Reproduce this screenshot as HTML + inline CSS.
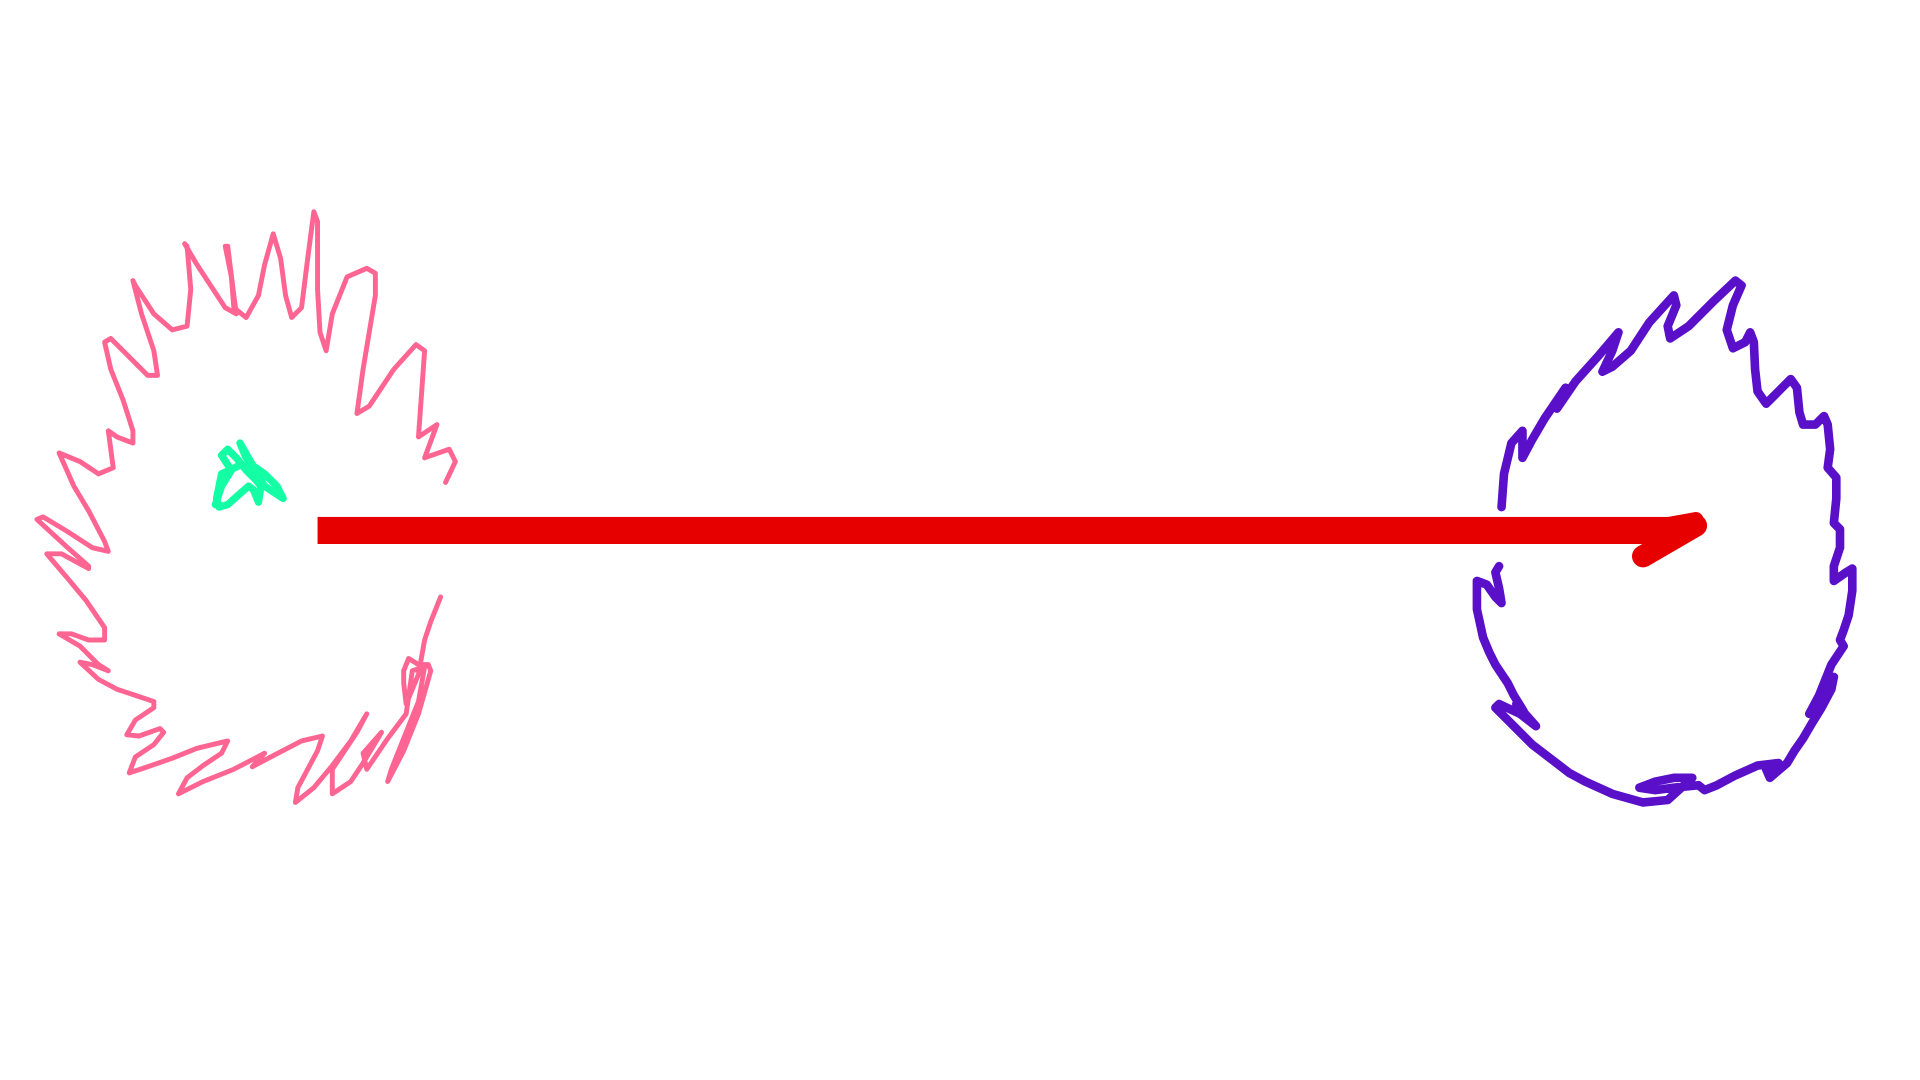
<!DOCTYPE html>
<html><head><meta charset="utf-8"><style>
html,body{margin:0;padding:0;background:#fff;width:1920px;height:1080px;overflow:hidden}
svg{display:block}
</style></head><body>
<svg width="1920" height="1080" viewBox="0 0 1560 877.5" preserveAspectRatio="none" xmlns="http://www.w3.org/2000/svg">
<rect width="1560" height="877.5" fill="#fff"/>
<polyline fill="none" stroke="#ff6592" stroke-width="4" stroke-linejoin="round" stroke-linecap="round" points="362,392 370,375 365,365 345,372 355,345 340,355 345,285 338,280 320,300 300,330 290,336 295,300 305,240 305,222 298,218 282,225 270,255 265,285 260,270 258,235 258,180 255,172 250,210 245,250 237,258 232,240 228,210 222,190 215,215 210,240 200,258 190,250 188,225 183,200 185,200 190,240 192,255 183,250 160,215 150,198 152,200 155,235 152,265 140,268 125,255 110,232 108,228 115,255 125,285 128,305 120,305 110,295 90,275 85,278 90,300 100,325 108,350 108,360 95,355 88,350 90,365 92,380 80,385 65,375 48,368 60,395 72,415 85,440 88,448 75,445 55,432 35,420 30,422 55,445 72,460 72,462 50,450 38,450 55,470 70,488 85,510 85,520 72,520 58,515 48,515 65,525 80,540 88,545 75,540 65,538 80,552 95,560 110,565 125,570 125,575 110,585 103,597 113,598 130,592 133,595 125,605 110,615 105,628 120,623 140,616 160,608 185,602 180,612 165,622 152,632 145,645 165,635 190,625 215,612 205,623 220,615 245,602 262,598 258,610 250,625 242,640 240,652 255,640 270,622 285,602 298,580 290,595 270,625 270,645 285,635 295,620 310,595 295,612 298,625 315,600 330,580 335,545 345,542 340,570 328,600 318,625 315,635 328,610 340,580 350,545 348,540 340,540 332,535 328,545 328,555 330,572 340,548 345,520 350,505 358,485"/>
<polyline fill="none" stroke="#14ffa5" stroke-width="6" stroke-linejoin="round" stroke-linecap="round" points="175,410 180,395 188,382 180,370 185,365 192,372 200,382 208,390 212,395 210,408 206,398 202,395 194,402 185,410 178,412 176,405 180,385 195,378 205,378 215,385 225,395 230,405 215,395 195,360 200,372"/>
<rect x="258" y="420" width="1100" height="22" fill="#e60000"/>
<line x1="1335" y1="452" x2="1378" y2="427" stroke="#e60000" stroke-width="18" stroke-linecap="round"/>
<line x1="1345" y1="428" x2="1378" y2="422" stroke="#e60000" stroke-width="12" stroke-linecap="round"/>
<polyline fill="none" stroke="#5a0fc8" stroke-width="7" stroke-linejoin="round" stroke-linecap="round" points="1220,412 1222,385 1228,360 1237,350 1237,372 1245,357 1255,340 1272,315 1265,332 1280,310 1298,290 1315,270 1310,285 1302,302 1310,298 1325,285 1340,262 1360,240 1362,248 1355,265 1357,275 1372,265 1392,245 1410,228 1415,232 1408,248 1403,268 1408,283 1418,278 1422,270 1425,278 1426,300 1428,318 1435,328 1445,318 1455,308 1460,315 1462,335 1465,345 1475,345 1482,338 1485,345 1487,365 1485,380 1492,388 1492,405 1490,425 1495,430 1495,445 1490,460 1490,472 1500,465 1505,462 1505,480 1502,500 1498,512 1495,520 1498,525 1488,540 1482,555 1478,565 1470,580 1490,550 1488,560 1480,575 1472,588 1465,600 1458,610 1452,620 1438,632 1435,625 1445,620 1428,622 1410,630 1395,638 1385,642 1380,638 1360,640 1345,642 1332,640 1345,635 1360,632 1375,632 1355,650 1335,652 1310,645 1288,635 1275,628 1262,618 1245,605 1225,585 1215,575 1218,572 1235,580 1248,590 1232,572 1238,578 1230,565 1225,555 1215,540 1210,530 1205,518 1200,495 1200,472 1208,475 1215,485 1220,490 1218,478 1215,465 1218,460"/>
</svg>
</body></html>
